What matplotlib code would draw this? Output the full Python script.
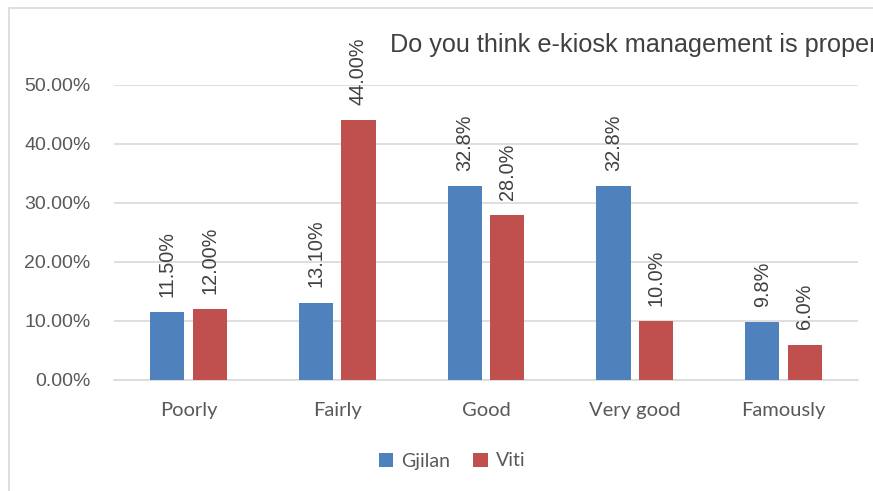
import numpy as np
import matplotlib.pyplot as plt
from matplotlib.patches import Rectangle

categories = ['Poorly', 'Fairly', 'Good', 'Very good', 'Famously']
gjilan = [0.115, 0.131, 0.328, 0.328, 0.098]
viti = [0.12, 0.44, 0.28, 0.10, 0.06]
gjilan_labels = ['11.50%', '13.10%', '32.8%', '32.8%', '9.8%']
viti_labels = ['12.00%', '44.00%', '28.0%', '10.0%', '6.0%']
yticks = [0.0, 0.1, 0.2, 0.3, 0.4, 0.5]
title = 'Do you think e-kiosk management is proper'

blue = '#4F81BD'
red = '#C0504D'
txt = '#595959'

fig = plt.figure(figsize=(8.73, 4.91), dpi=100)
ax = fig.add_axes([0.1306, 0.2261, 0.8522, 0.6008])

x = np.arange(len(categories))
w = 0.23
off = 0.143
b1 = ax.bar(x - off, gjilan, w, color=blue, label='Gjilan', zorder=3)
b2 = ax.bar(x + off, viti, w, color=red, label='Viti', zorder=3)

for bars, labs in ((b1, gjilan_labels), (b2, viti_labels)):
    for b, lab in zip(bars, labs):
        ax.annotate(lab, (b.get_x() + b.get_width() / 2, b.get_height()),
                    xytext=(0, 11), textcoords='offset points',
                    rotation=90, ha='center', va='bottom',
                    fontsize=14.3, color='#404040', family='Liberation Sans',
                    annotation_clip=False)

ax.set_xlim(-0.5, len(categories) - 0.5)
ax.set_ylim(0, 0.5)
ax.set_yticks(yticks)
ax.set_yticklabels(['%.2f%%' % (v * 100) for v in yticks],
                   family='Liberation Sans', fontsize=14, color=txt)
ax.set_xticks(x)
ax.set_xticklabels(categories, family='Lato', fontsize=14.5, color=txt)
ax.tick_params(length=0)
ax.tick_params(axis='y', pad=17)
ax.tick_params(axis='x', pad=16)
ax.grid(axis='y', color='#D9D9D9', linewidth=1.2, zorder=0)
for s in ('top', 'right', 'left'):
    ax.spines[s].set_visible(False)
ax.spines['bottom'].set_color('#D9D9D9')
ax.spines['bottom'].set_linewidth(1.2)

# title runs off the right edge in the original too
fig.text(390 / 873, 1 - 45 / 491, title, fontsize=18.15, color='#404040',
         family='Liberation Sans', va='center', ha='left')

fig.legend(handles=[b1, b2], loc='center', bbox_to_anchor=(452 / 873, 1 - 461 / 491),
           ncol=2, frameon=False, prop={'family': 'Lato', 'size': 14},
           labelcolor=txt, handlelength=0.75, handleheight=0.75,
           handletextpad=0.4, columnspacing=1.2)

fig.patches.append(Rectangle((8.5 / 873, -0.1), 2, 1.1 - 7.5 / 491,
                             transform=fig.transFigure, fill=False,
                             edgecolor='#D9D9D9', linewidth=1.2))

fig.savefig('out.png', dpi=100)
